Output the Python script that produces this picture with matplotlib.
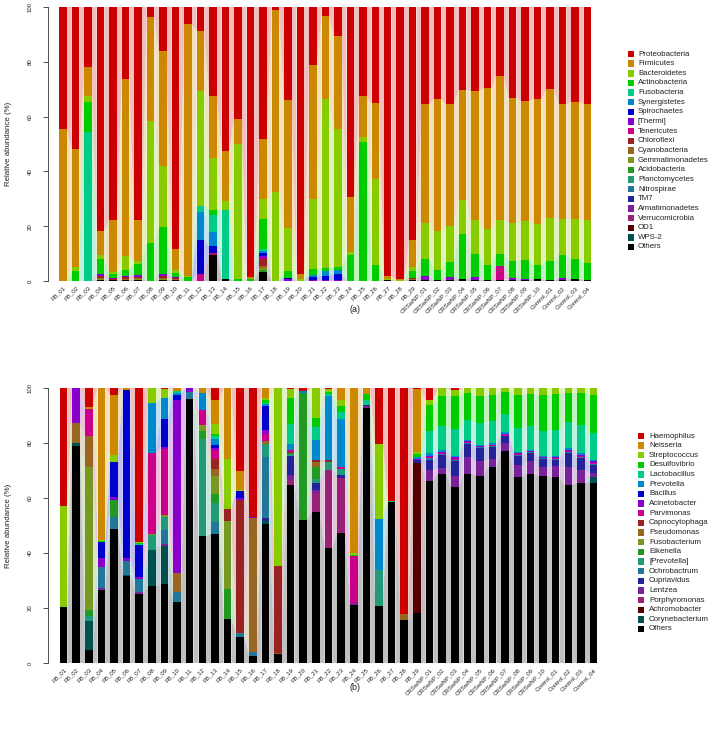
import numpy as np
import matplotlib
matplotlib.use("Agg")
import matplotlib.pyplot as plt
from matplotlib.patches import Rectangle

plt.rcParams['font.family'] = ['Liberation Sans', 'DejaVu Sans']

samples = ["FB_01", "FB_02", "FB_03", "FB_04", "FB_05", "FB_06", "FB_07", "FB_08", "FB_09", "FB_10",
           "FB_11", "FB_12", "FB_13", "FB_14", "FB_15", "FB_16", "FB_17", "FB_18", "FB_19", "FB_20",
           "FB_21", "FB_22", "FB_23", "FB_24", "FB_25", "FB_26", "FB_27", "FB_28", "FB_29",
           "CRSwNP_01", "CRSwNP_02", "CRSwNP_03", "CRSwNP_04", "CRSwNP_05", "CRSwNP_06", "CRSwNP_07",
           "CRSwNP_08", "CRSwNP_09", "CRSwNP_10", "Control_01", "Control_02", "Control_03", "Control_04"]

palette = ["#CC0000", "#CC8800", "#88CC00", "#00CC00", "#00CC88", "#0088CC", "#0000CC", "#8800CC",
           "#CC0088", "#992222", "#996622", "#779922", "#229922", "#229977", "#227799", "#222299",
           "#772299", "#992277", "#550000", "#005050", "#000000"]

# ---------------- Panel (a): phylum level ----------------
phyla = ["Proteobacteria", "Firmicutes", "Bacteroidetes", "Actinobacteria", "Fusobacteria",
         "Synergistetes", "Spirochaetes", "[Thermi]", "Tenericutes", "Chloroflexi", "Cyanobacteria",
         "Gemmatimonadetes", "Acidobacteria", "Planctomycetes", "Nitrospirae", "TM7",
         "Armatimonadetes", "Verrucomicrobia", "OD1", "WPS-2", "Others"]

#                 FB01  02    03    04    05    06    07    08    09    10    11    12    13    14    15    16    17    18    19    20    21    22    23    24    25    26    27    28    29  CR01  02    03    04    05    06    07    08    09    10   C01   02    03    04
proteobacteria = [44.5, 52.0, 22.0, 81.5, 77.5, 26.2, 77.8, 3.8, 16.0, 88.4, 6.2, 8.7, 32.3, 52.4, 41.0, 98.5, 48.2, 1.0, 33.9, 97.6, 21.1, 3.4, 10.5, 69.5, 32.4, 35.1, 98.3, 99.4, 84.9, 35.5, 33.7, 35.7, 30.2, 30.5, 29.6, 25.1, 33.3, 34.3, 33.7, 29.9, 35.5, 34.5, 35.4]
firmicutes =     [55.5, 43.0, 10.5, 9.0, 19.0, 64.7, 15.0, 37.7, 42.0, 7.7, 92.1, 21.9, 22.6, 18.3, 9.0, 0.7, 21.9, 66.7, 46.7, 1.5, 49.0, 30.1, 34.0, 19.9, 14.7, 27.7, 0.9, 0.3, 10.0, 43.5, 48.0, 44.5, 40.4, 47.1, 51.6, 52.7, 45.5, 43.9, 45.6, 47.1, 41.9, 42.7, 42.4]
bacteroidetes =  [0.0, 1.5, 2.0, 1.3, 0.5, 5.0, 0.9, 44.6, 22.2, 1.0, 0.4, 42.0, 18.9, 3.4, 49.1, 0.0, 7.3, 32.3, 15.7, 0.9, 25.4, 61.7, 50.4, 1.2, 1.8, 31.5, 0.3, 0.3, 1.4, 13.4, 14.2, 13.1, 12.3, 12.4, 13.1, 12.2, 14.0, 14.2, 15.0, 15.7, 13.2, 14.9, 15.6]
actinobacteria = [0.0, 3.5, 11.0, 5.5, 1.5, 2.1, 4.2, 13.9, 17.1, 1.4, 1.3, 0.0, 1.8, 0.0, 0.9, 0.8, 10.8, 0.0, 2.6, 0.0, 2.4, 1.1, 1.2, 9.4, 50.6, 5.7, 0.0, 0.0, 2.6, 6.3, 3.6, 5.5, 16.4, 8.5, 5.2, 4.6, 6.0, 6.7, 5.1, 6.8, 8.3, 7.2, 6.1]
fusobacteria =   [0, 0, 54.5, 0, 0, 0, 0, 0, 0, 0, 0, 2.3, 6.5, 25.0, 0, 0, 0.8, 0, 0, 0, 0, 0, 0, 0, 0, 0, 0, 0, 0, 0, 0, 0, 0, 0, 0, 0, 0, 0, 0, 0, 0, 0, 0]
synergistetes =  [0, 0, 0, 0, 0, 0, 0, 0, 0, 0, 0, 10.0, 5.1, 0, 0, 0, 0.8, 0, 0, 0, 0.5, 1.6, 1.5, 0, 0, 0, 0, 0, 0, 0, 0, 0, 0, 0, 0, 0, 0, 0, 0, 0, 0, 0, 0]
spirochaetes =   [0, 0, 0, 0, 0, 0, 0, 0, 0, 0, 0, 12.7, 2.4, 0, 0, 0, 1.0, 0, 0.5, 0, 1.2, 1.8, 1.9, 0, 0, 0, 0, 0, 0, 0, 0, 0, 0, 0, 0, 0, 0, 0.3, 0, 0, 0, 0, 0]
thermi =         [0, 0, 0, 0.6, 0.4, 0.6, 0.6, 0, 1.0, 0.4, 0, 0, 0, 0, 0, 0, 0.8, 0, 0.6, 0, 0.4, 0.2, 0.5, 0, 0, 0, 0, 0, 0, 0.8, 0.3, 0.7, 0, 1.0, 0, 0, 0.7, 0.3, 0, 0, 0.6, 0, 0]
tenericutes =    [0, 0, 0, 0.2, 0, 0, 0, 0, 0, 0, 0, 2.4, 0.5, 0, 0, 0, 0.5, 0, 0, 0, 0, 0, 0, 0, 0, 0, 0, 0, 0, 0, 0, 0, 0, 0, 0, 4.9, 0, 0, 0, 0, 0, 0, 0]
chloroflexi =    [0, 0, 0, 0.5, 0.3, 0.5, 0.5, 0, 0.5, 0.4, 0, 0, 0.3, 0, 0, 0, 2.5, 0, 0, 0, 0, 0, 0, 0, 0, 0, 0, 0, 0.3, 0, 0, 0, 0, 0, 0, 0, 0, 0, 0, 0, 0, 0, 0]
cyanobacteria =  [0, 0, 0, 0.5, 0.3, 0.4, 0.4, 0, 0.4, 0.3, 0, 0, 0, 0, 0, 0, 0.5, 0, 0, 0, 0, 0, 0, 0, 0, 0, 0, 0, 0.5, 0.2, 0, 0.2, 0, 0, 0, 0, 0, 0, 0, 0, 0, 0, 0]
gemmatimonadetes=[0, 0, 0, 0.3, 0, 0.2, 0.2, 0, 0.3, 0, 0, 0, 0, 0, 0, 0, 0.8, 0, 0, 0, 0, 0, 0, 0, 0, 0, 0, 0, 0, 0, 0, 0, 0, 0, 0, 0, 0, 0, 0, 0, 0, 0, 0]
acidobacteria =  [0, 0, 0, 0, 0, 0, 0, 0, 0.2, 0, 0, 0, 0, 0, 0, 0, 0.8, 0, 0, 0, 0, 0, 0, 0, 0, 0, 0, 0, 0, 0, 0, 0, 0, 0, 0, 0, 0, 0, 0, 0, 0, 0, 0]
planctomycetes = [0] * 43
nitrospirae =    [0] * 43
tm7 =            [0] * 43
armatimonadetes= [0, 0, 0, 0, 0, 0, 0, 0, 0, 0, 0, 0, 0, 0, 0, 0, 0, 0, 0, 0, 0, 0, 0, 0, 0, 0, 0, 0, 0, 0.2, 0, 0.2, 0, 0, 0, 0, 0, 0, 0, 0, 0, 0, 0]
verrucomicrobia= [0] * 43
od1 =            [0] * 43
wps2 =           [0] * 43
others_a =       [0, 0, 0, 0.4, 0.2, 0.3, 0.4, 0, 0.3, 0.4, 0, 0, 9.4, 0.9, 0, 0, 3.3, 0, 0, 0, 0, 0, 0, 0, 0, 0, 0.5, 0, 0.3, 0.5, 0.2, 0.5, 0.7, 0.5, 0.5, 0.5, 0.5, 0.3, 0.6, 0.5, 0.5, 0.7, 0.5]

series_a = [proteobacteria, firmicutes, bacteroidetes, actinobacteria, fusobacteria, synergistetes,
            spirochaetes, thermi, tenericutes, chloroflexi, cyanobacteria, gemmatimonadetes,
            acidobacteria, planctomycetes, nitrospirae, tm7, armatimonadetes, verrucomicrobia,
            od1, wps2, others_a]

# ---------------- Panel (b): genus level ----------------
genera = ["Haemophilus", "Neisseria", "Streptococcus", "Desulfovibrio", "Lactobacillus", "Prevotella",
          "Bacillus", "Acinetobacter", "Parvimonas", "Capnocytophaga", "Pseudomonas", "Fusobacterium",
          "Eikenella", "[Prevotella]", "Ochrobactrum", "Cupriavidus", "Lentzea", "Porphyromonas",
          "Achromobacter", "Corynebacterium", "Others"]

haemophilus =    [43.0, 0, 6.9, 0, 2.4, 0, 56.0, 0, 0.3, 0, 0, 0, 4.2, 0, 30.1, 47.0, 0, 0, 0.3, 1.0, 0, 0.3, 0, 0, 0, 20.2, 41.2, 82.2, 0.3, 4.2, 0, 0.8, 0, 0, 0, 0, 0, 0, 0, 0, 0, 0, 0]
neisseria =      [0, 0, 0.7, 55.2, 21.8, 0.6, 0, 0, 0, 1.2, 0, 1.8, 8.8, 25.8, 6.9, 0, 3.6, 0, 0, 0, 0, 0, 4.2, 60.0, 2.1, 0, 0, 0, 23.0, 0, 0, 0, 0, 0, 0, 0, 0, 0, 0, 0, 0, 0, 0]
streptococcus =  [36.8, 0, 0, 0.4, 2.8, 0, 0.4, 5.5, 3.4, 0, 0, 0, 3.6, 18.2, 0.3, 0, 0.8, 64.8, 3.4, 0, 10.9, 1.2, 2.5, 0.6, 0, 27.3, 0, 0, 0.8, 1.9, 2.8, 2.2, 1.8, 3.0, 2.4, 1.5, 2.4, 2.1, 2.7, 2.2, 1.8, 1.8, 2.4]
desulfovibrio =  [0, 0, 0, 0.3, 0, 0, 0.4, 0, 0, 0, 0, 0, 1.0, 0, 0.3, 0, 1.0, 0, 9.3, 0, 3.3, 0.8, 2.0, 0.6, 2.1, 0, 0, 0, 1.2, 9.7, 11.2, 11.9, 9.7, 9.7, 9.7, 8.0, 12.1, 11.6, 13.1, 13.0, 10.7, 11.5, 14.0]
lactobacillus =  [0, 0, 0, 0.2, 0, 0, 0.4, 0, 0, 0.6, 0, 0, 1.0, 0, 0, 0, 0.6, 0, 7.3, 0, 4.6, 0.8, 2.6, 0, 1.9, 0, 0, 0, 0, 7.8, 8.7, 9.7, 7.5, 7.9, 8.1, 6.6, 8.9, 8.7, 8.8, 9.6, 9.3, 10.3, 9.7]
prevotella =     [0, 0, 0, 0, 0, 0, 0, 18.1, 7.4, 0.6, 0, 6.3, 2.0, 0, 0, 0, 0.6, 0, 2.4, 0.8, 7.3, 23.3, 17.4, 0, 0, 18.6, 0, 0, 0.5, 1.0, 0.7, 0.6, 0.4, 0.4, 0.4, 0.5, 0.4, 0.4, 0.4, 0.4, 0.6, 0.6, 0.5]
bacillus =       [0, 0, 0, 5.7, 12.6, 61.2, 11.5, 0, 10.3, 1.8, 0, 0, 1.2, 0, 2.3, 0, 8.5, 0, 0, 0, 0, 0, 0, 0, 0, 0, 0, 0, 0, 0, 0, 0, 0, 0, 0, 0, 0, 0, 0, 0, 0, 0, 0]
acinetobacter =  [0, 12.7, 0, 3.3, 1.2, 1.2, 0.8, 0, 0.8, 63.1, 1.5, 0, 0.6, 0, 0.7, 0.3, 1.8, 0, 0, 0, 0, 0, 0, 0, 0, 0, 0, 0, 0.5, 0.5, 0.3, 0.5, 0.3, 0.3, 0.3, 0.4, 0.3, 0.3, 0.3, 0.3, 0.5, 0.5, 0.5]
parvimonas =     [0, 0, 9.7, 0, 0, 0, 0, 29.4, 24.0, 0, 0, 5.2, 3.4, 0, 0, 0, 2.4, 0, 0.6, 0, 0, 0, 0.7, 17.0, 0, 0, 0, 0, 0, 0.5, 0.4, 0.5, 0.2, 0.2, 0.2, 0.3, 0.2, 0.2, 0.2, 0.3, 0.3, 0.4, 0.4]
capnocytophaga = [0, 0, 0, 0, 0, 0, 0, 0, 0, 0, 0, 0, 3.7, 4.5, 48.5, 0, 0, 31.6, 0.4, 0, 1.0, 0.6, 0, 0, 0, 0, 0, 0, 0, 0, 0, 0, 0, 0, 0, 0, 0, 0, 0, 0, 0, 0, 0]
pseudomonas =    [0, 7.3, 11.5, 0, 0, 0, 0, 0, 0, 7.0, 0, 0, 2.4, 0, 0, 48.6, 1.2, 0.3, 0, 0, 1.7, 0, 0, 0, 0, 0, 0, 2.0, 0, 0, 0, 0, 0, 0, 0, 0, 0, 0, 0, 0, 0, 0, 0]
fusobacterium =  [0, 0, 51.8, 0, 0, 0, 0, 0.5, 0.6, 0, 0, 2.5, 6.6, 24.5, 0, 0, 0, 0, 0, 0, 0, 0, 0, 0, 0, 0, 0, 0, 0, 0, 0, 0, 0, 0, 0, 0, 0, 0, 0, 0, 0, 0, 0]
eikenella =      [0, 0, 2.2, 0, 6.2, 0, 0, 0, 0, 0, 0, 2.7, 3.3, 10.9, 0, 0, 0, 0, 0.5, 46.1, 4.4, 0, 0, 0, 0, 0, 0, 0, 0, 0, 0, 0, 0, 0, 0, 0, 0, 0, 0, 0, 0, 0, 0]
prevotella_br =  [0, 0, 2.0, 0, 0, 0, 0, 5.3, 4.9, 0, 0, 35.4, 7.0, 0, 0, 0, 4.5, 0, 0.5, 0, 1.2, 2.8, 2.3, 0, 0, 13.1, 0.4, 0, 0, 0, 0, 0, 0, 0, 0, 0, 0, 0, 0, 0, 0, 0, 0]
ochrobactrum =   [0, 0, 0, 7.6, 4.3, 4.9, 4.7, 0, 5.0, 3.6, 2.4, 0, 4.2, 0, 1.4, 1.4, 22.2, 0, 0, 0, 0, 0, 0, 0, 0, 0, 0, 0, 0, 0.5, 0.5, 0.5, 0.3, 0.3, 0.3, 0.3, 0.3, 0.3, 0.3, 0.3, 0.4, 0.4, 0.4]
cupriavidus =    [0, 0, 0, 0, 0, 0, 0, 0, 0, 0, 0, 0, 0, 0, 0, 0, 1.2, 0, 7.1, 0, 2.7, 0, 1.0, 0, 0.6, 0, 0, 0, 0.9, 3.6, 4.5, 5.2, 4.9, 4.6, 4.3, 2.4, 3.5, 3.1, 2.9, 2.4, 5.1, 4.2, 3.0]
lentzea =        [0, 0, 0, 0.9, 0, 0, 0.6, 0, 0.6, 0, 0, 0, 0, 0, 0, 0, 0, 0, 1.6, 0, 1.2, 0, 0, 0.8, 0.6, 0, 0, 0, 0, 4.0, 2.2, 4.2, 6.1, 5.5, 3.2, 3.0, 4.4, 4.6, 3.4, 4.0, 6.7, 4.8, 1.5]
porphyromonas =  [0, 0, 0, 0, 0, 0, 0, 0, 0, 0, 0, 0, 0, 0, 0, 0, 0, 0, 2.1, 0, 6.9, 28.7, 20.0, 0, 0, 0, 0, 0, 0, 0, 0, 0, 0, 0, 0, 0, 0, 0, 0, 0, 0, 0, 0]
achromobacter =  [0, 0, 0, 0, 0, 0, 0, 0, 0, 0, 0, 0, 0, 0, 0, 0, 0, 0, 0, 0, 0, 0, 0, 0, 0, 0, 0, 0, 54.9, 0, 0, 0, 0, 0, 0, 0, 0, 0, 0, 0, 0, 0, 0]
corynebacterium= [0, 1.2, 10.6, 0, 0, 0.3, 0, 13.3, 14.0, 0, 0, 0, 0, 0, 0, 0, 0.9, 0, 0, 0, 0, 0, 0, 0, 0, 0, 0, 0, 0, 0, 0, 0, 0, 0, 0, 0, 0, 0, 0, 0, 0, 0, 2.1]
others_b =       [20.2, 78.8, 4.6, 26.4, 48.7, 31.8, 25.2, 27.9, 28.7, 22.1, 96.1, 46.1, 47.0, 16.1, 9.5, 2.7, 50.7, 3.3, 64.8, 52.1, 54.9, 41.8, 47.3, 21.0, 92.7, 20.8, 58.4, 15.8, 18.2, 66.3, 69.1, 63.9, 68.8, 68.1, 71.3, 77.0, 67.5, 68.7, 67.9, 67.5, 64.6, 65.5, 65.5]

series_b = [haemophilus, neisseria, streptococcus, desulfovibrio, lactobacillus, prevotella, bacillus,
            acinetobacter, parvimonas, capnocytophaga, pseudomonas, fusobacterium, eikenella,
            prevotella_br, ochrobactrum, cupriavidus, lentzea, porphyromonas, achromobacter,
            corynebacterium, others_b]

# ---------------- drawing ----------------
W, H = 711, 732
fig = plt.figure(figsize=(W / 100, H / 100), dpi=100)


def px_axes(left, right, top, bottom):
    return fig.add_axes([left / W, 1 - bottom / H, (right - left) / W, (bottom - top) / H])


def draw_panel(ax, series, names, x_first_px, x_step_px, ax_left_px, ax_right_px, bw):
    n = len(samples)
    data = np.array(series, dtype=float)[::-1]          # bottom layer first (Others)
    cols = palette[::-1]
    data = data / data.sum(axis=0) * 100.0
    cum = np.vstack([np.zeros(n), np.cumsum(data, axis=0)])
    xs = np.arange(n)
    # connecting translucent bands between bars
    for i in range(n - 1):
        x0 = xs[i] + bw / 2
        x1 = xs[i + 1] - bw / 2
        for k in range(data.shape[0]):
            b0, t0 = cum[k, i], cum[k + 1, i]
            b1, t1 = cum[k, i + 1], cum[k + 1, i + 1]
            if t0 - b0 <= 0 and t1 - b1 <= 0:
                continue
            ax.fill([x0, x1, x1, x0], [b0, b1, t1, t0], color=cols[k], alpha=0.25, lw=0)
    for k in range(data.shape[0]):
        ax.bar(xs, data[k], bottom=cum[k], width=bw, color=cols[k], linewidth=0)
    x_lo = -(x_first_px - ax_left_px) / x_step_px
    x_hi = (n - 1) + (ax_right_px - (x_first_px + (n - 1) * x_step_px)) / x_step_px
    ax.set_xlim(x_lo, x_hi)
    ax.set_ylim(0, 100)
    for s in ["top", "right", "bottom"]:
        ax.spines[s].set_visible(False)
    ax.spines["left"].set_bounds(0, 100)
    ax.spines["left"].set_linewidth(0.6)
    ax.spines["left"].set_color("#333333")
    ax.set_yticks([0, 20, 40, 60, 80, 100])
    ax.set_yticklabels(["0", "20", "40", "60", "80", "100"], rotation=90, va="center", fontsize=4.3)
    ax.tick_params(axis="y", length=3.5, width=0.6, pad=7.5, colors="#333333", labelcolor="#222222")
    ax.set_xticks(xs)
    ax.set_xticklabels(samples, rotation=45, ha="right", rotation_mode="anchor", fontsize=4.4,
                       color="#222222")
    ax.tick_params(axis="x", length=0, pad=3)
    ax.set_ylabel("Relative abundance (%)", fontsize=5.7, color="#222222")
    ax.yaxis.set_label_coords(-(ax_left_px - 12) / (ax_right_px - ax_left_px), 0.5)


def draw_legend(names, sq_left, text_left, first_y, step):
    for k, name in enumerate(names):
        yc = first_y + k * step
        fig.patches.append(Rectangle(((sq_left) / W, 1 - (yc + 3.2) / H), 6.4 / W, 6.4 / H,
                                     transform=fig.transFigure, facecolor=palette[k],
                                     edgecolor="none"))
        fig.text(text_left / W, 1 - yc / H, name, fontsize=5.7, va="center", ha="left",
                 color="#222222")


ax_a = px_axes(48, 600, 7, 281)
draw_panel(ax_a, series_a, phyla, 63.0, 12.49, 48, 600, 0.6)
draw_legend(phyla, 628, 638, 54, 9.65)
fig.text(355 / W, 1 - 310 / H, "(a)", fontsize=6.5, ha="center", va="center", color="#222222")

ax_b = px_axes(48, 606, 388, 663)
draw_panel(ax_b, series_b, genera, 63.5, 12.62, 48, 606, 0.6)
draw_legend(genera, 638, 649, 436, 9.65)
fig.text(355 / W, 1 - 688 / H, "(b)", fontsize=6.5, ha="center", va="center", color="#222222")

fig.savefig("out.png", dpi=100)
